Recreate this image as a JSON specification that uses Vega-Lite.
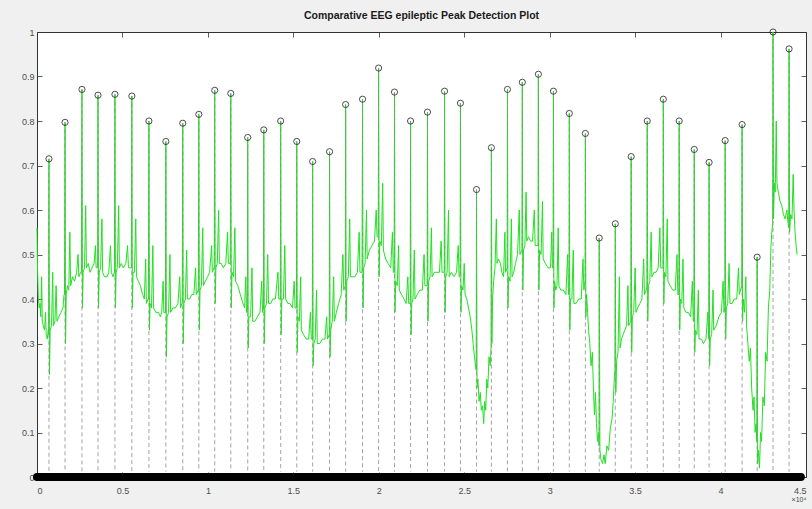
{
 "$schema": "https://vega.github.io/schema/vega-lite/v6.json",
 "width": 769, "height": 445,
 "autosize": {"type": "none"},
 "padding": {"left": 37, "top": 32, "right": 6, "bottom": 32},
 "background": "#f0f0f0",
 "title": {"text": "Comparative EEG epileptic Peak Detection Plot", "font": "Liberation Sans", "fontSize": 10.5, "fontWeight": "bold", "color": "#1a1a1a", "offset": 6},
 "datasets": {
  "zeros": [{"start":0,"end":4.47,"y":0}],
  "peaks": [
   {"x":0.070,"y":0.715},{"x":0.164,"y":0.797},{"x":0.263,"y":0.871},{"x":0.357,"y":0.858},{"x":0.456,"y":0.86},{"x":0.555,"y":0.856},{"x":0.655,"y":0.80},{"x":0.754,"y":0.754},{"x":0.853,"y":0.795},{"x":0.947,"y":0.815},{"x":1.040,"y":0.869},{"x":1.134,"y":0.862},{"x":1.233,"y":0.763},{"x":1.327,"y":0.78},{"x":1.426,"y":0.80},{"x":1.520,"y":0.754},{"x":1.613,"y":0.709},{"x":1.712,"y":0.731},{"x":1.806,"y":0.837},{"x":1.905,"y":0.849},{"x":1.999,"y":0.919},{"x":2.092,"y":0.865},{"x":2.186,"y":0.80},{"x":2.285,"y":0.82},{"x":2.385,"y":0.867},{"x":2.478,"y":0.84},{"x":2.572,"y":0.646},{"x":2.659,"y":0.74},{"x":2.753,"y":0.871},{"x":2.840,"y":0.887},{"x":2.934,"y":0.905},{"x":3.022,"y":0.867},{"x":3.115,"y":0.817},{"x":3.209,"y":0.772},{"x":3.290,"y":0.537},{"x":3.384,"y":0.569},{"x":3.477,"y":0.72},{"x":3.571,"y":0.80},{"x":3.665,"y":0.849},{"x":3.758,"y":0.80},{"x":3.846,"y":0.736},{"x":3.933,"y":0.707},{"x":4.027,"y":0.756},{"x":4.126,"y":0.792},{"x":4.214,"y":0.494},{"x":4.307,"y":1.0},{"x":4.401,"y":0.962}
  ],
  "signal": [
   {"x":0,"y":0.56},{"x":0.003,"y":0.47},{"x":0.008,"y":0.40},{"x":0.013,"y":0.38},{"x":0.018,"y":0.39},{"x":0.022,"y":0.36},{"x":0.027,"y":0.45},{"x":0.031,"y":0.35},{"x":0.037,"y":0.34},{"x":0.044,"y":0.33},{"x":0.05,"y":0.37},{"x":0.054,"y":0.32},{"x":0.06,"y":0.31},{"x":0.066,"y":0.33},{"x":0.068,"y":0.32},
   {"x":0.070,"y":0.715},{"x":0.073,"y":0.23},{"x":0.077,"y":0.33},{"x":0.085,"y":0.34},{"x":0.092,"y":0.46},{"x":0.096,"y":0.34},{"x":0.105,"y":0.35},{"x":0.112,"y":0.43},{"x":0.117,"y":0.35},{"x":0.128,"y":0.36},{"x":0.14,"y":0.37},{"x":0.152,"y":0.38},{"x":0.158,"y":0.41},{"x":0.161,"y":0.41},
   {"x":0.164,"y":0.797},{"x":0.167,"y":0.30},{"x":0.171,"y":0.41},{"x":0.178,"y":0.43},{"x":0.186,"y":0.42},{"x":0.192,"y":0.55},{"x":0.197,"y":0.43},{"x":0.208,"y":0.45},{"x":0.22,"y":0.44},{"x":0.232,"y":0.46},{"x":0.24,"y":0.50},{"x":0.245,"y":0.45},{"x":0.255,"y":0.46},{"x":0.260,"y":0.46},
   {"x":0.263,"y":0.871},{"x":0.266,"y":0.38},{"x":0.270,"y":0.46},{"x":0.278,"y":0.47},{"x":0.285,"y":0.61},{"x":0.289,"y":0.47},{"x":0.30,"y":0.48},{"x":0.31,"y":0.46},{"x":0.322,"y":0.47},{"x":0.334,"y":0.48},{"x":0.342,"y":0.52},{"x":0.346,"y":0.47},{"x":0.352,"y":0.47},{"x":0.355,"y":0.47},
   {"x":0.357,"y":0.858},{"x":0.360,"y":0.38},{"x":0.364,"y":0.46},{"x":0.372,"y":0.47},{"x":0.38,"y":0.58},{"x":0.384,"y":0.46},{"x":0.395,"y":0.45},{"x":0.41,"y":0.45},{"x":0.42,"y":0.46},{"x":0.43,"y":0.52},{"x":0.435,"y":0.46},{"x":0.445,"y":0.45},{"x":0.453,"y":0.46},
   {"x":0.456,"y":0.86},{"x":0.459,"y":0.38},{"x":0.463,"y":0.46},{"x":0.47,"y":0.47},{"x":0.478,"y":0.61},{"x":0.482,"y":0.47},{"x":0.493,"y":0.48},{"x":0.505,"y":0.47},{"x":0.52,"y":0.48},{"x":0.53,"y":0.52},{"x":0.535,"y":0.47},{"x":0.548,"y":0.47},{"x":0.552,"y":0.47},
   {"x":0.555,"y":0.856},{"x":0.558,"y":0.38},{"x":0.562,"y":0.46},{"x":0.57,"y":0.46},{"x":0.578,"y":0.58},{"x":0.582,"y":0.45},{"x":0.593,"y":0.44},{"x":0.605,"y":0.43},{"x":0.618,"y":0.41},{"x":0.628,"y":0.40},{"x":0.636,"y":0.49},{"x":0.640,"y":0.39},{"x":0.65,"y":0.40},{"x":0.652,"y":0.40},
   {"x":0.655,"y":0.80},{"x":0.658,"y":0.33},{"x":0.662,"y":0.39},{"x":0.67,"y":0.38},{"x":0.678,"y":0.52},{"x":0.682,"y":0.38},{"x":0.695,"y":0.37},{"x":0.71,"y":0.37},{"x":0.722,"y":0.36},{"x":0.73,"y":0.37},{"x":0.738,"y":0.44},{"x":0.742,"y":0.37},{"x":0.75,"y":0.37},{"x":0.752,"y":0.37},
   {"x":0.754,"y":0.754},{"x":0.757,"y":0.27},{"x":0.761,"y":0.36},{"x":0.77,"y":0.37},{"x":0.778,"y":0.50},{"x":0.782,"y":0.37},{"x":0.795,"y":0.38},{"x":0.81,"y":0.38},{"x":0.825,"y":0.39},{"x":0.835,"y":0.45},{"x":0.84,"y":0.38},{"x":0.848,"y":0.39},{"x":0.85,"y":0.39},
   {"x":0.853,"y":0.795},{"x":0.856,"y":0.30},{"x":0.86,"y":0.39},{"x":0.868,"y":0.40},{"x":0.876,"y":0.51},{"x":0.88,"y":0.40},{"x":0.893,"y":0.40},{"x":0.905,"y":0.41},{"x":0.918,"y":0.41},{"x":0.928,"y":0.47},{"x":0.932,"y":0.41},{"x":0.942,"y":0.42},{"x":0.944,"y":0.42},
   {"x":0.947,"y":0.815},{"x":0.950,"y":0.33},{"x":0.954,"y":0.42},{"x":0.962,"y":0.43},{"x":0.97,"y":0.56},{"x":0.974,"y":0.43},{"x":0.985,"y":0.44},{"x":0.998,"y":0.45},{"x":1.01,"y":0.46},{"x":1.022,"y":0.52},{"x":1.026,"y":0.46},{"x":1.035,"y":0.47},{"x":1.037,"y":0.47},
   {"x":1.04,"y":0.869},{"x":1.043,"y":0.39},{"x":1.047,"y":0.47},{"x":1.055,"y":0.48},{"x":1.063,"y":0.60},{"x":1.067,"y":0.48},{"x":1.078,"y":0.48},{"x":1.09,"y":0.47},{"x":1.105,"y":0.48},{"x":1.115,"y":0.55},{"x":1.12,"y":0.48},{"x":1.13,"y":0.48},{"x":1.131,"y":0.48},
   {"x":1.134,"y":0.862},{"x":1.137,"y":0.38},{"x":1.141,"y":0.46},{"x":1.15,"y":0.45},{"x":1.158,"y":0.56},{"x":1.162,"y":0.44},{"x":1.175,"y":0.43},{"x":1.19,"y":0.41},{"x":1.205,"y":0.39},{"x":1.215,"y":0.38},{"x":1.222,"y":0.45},{"x":1.226,"y":0.37},{"x":1.231,"y":0.37},
   {"x":1.233,"y":0.763},{"x":1.236,"y":0.29},{"x":1.24,"y":0.36},{"x":1.25,"y":0.36},{"x":1.258,"y":0.47},{"x":1.262,"y":0.35},{"x":1.275,"y":0.35},{"x":1.29,"y":0.36},{"x":1.305,"y":0.37},{"x":1.315,"y":0.44},{"x":1.32,"y":0.37},{"x":1.325,"y":0.38},
   {"x":1.327,"y":0.78},{"x":1.33,"y":0.30},{"x":1.334,"y":0.38},{"x":1.343,"y":0.39},{"x":1.35,"y":0.50},{"x":1.355,"y":0.39},{"x":1.368,"y":0.39},{"x":1.38,"y":0.40},{"x":1.395,"y":0.40},{"x":1.41,"y":0.46},{"x":1.415,"y":0.40},{"x":1.424,"y":0.40},
   {"x":1.426,"y":0.80},{"x":1.429,"y":0.32},{"x":1.433,"y":0.40},{"x":1.442,"y":0.40},{"x":1.45,"y":0.52},{"x":1.455,"y":0.40},{"x":1.468,"y":0.39},{"x":1.48,"y":0.39},{"x":1.495,"y":0.38},{"x":1.505,"y":0.44},{"x":1.51,"y":0.38},{"x":1.518,"y":0.38},
   {"x":1.52,"y":0.754},{"x":1.523,"y":0.28},{"x":1.527,"y":0.36},{"x":1.535,"y":0.35},{"x":1.543,"y":0.45},{"x":1.547,"y":0.33},{"x":1.56,"y":0.32},{"x":1.575,"y":0.31},{"x":1.59,"y":0.31},{"x":1.6,"y":0.37},{"x":1.605,"y":0.31},{"x":1.611,"y":0.31},
   {"x":1.613,"y":0.709},{"x":1.616,"y":0.25},{"x":1.62,"y":0.30},{"x":1.628,"y":0.31},{"x":1.636,"y":0.42},{"x":1.64,"y":0.30},{"x":1.655,"y":0.30},{"x":1.67,"y":0.31},{"x":1.685,"y":0.31},{"x":1.695,"y":0.36},{"x":1.7,"y":0.31},{"x":1.71,"y":0.32},
   {"x":1.712,"y":0.731},{"x":1.715,"y":0.27},{"x":1.719,"y":0.33},{"x":1.728,"y":0.35},{"x":1.736,"y":0.45},{"x":1.74,"y":0.35},{"x":1.752,"y":0.37},{"x":1.765,"y":0.39},{"x":1.78,"y":0.41},{"x":1.79,"y":0.50},{"x":1.795,"y":0.42},{"x":1.804,"y":0.43},
   {"x":1.806,"y":0.837},{"x":1.809,"y":0.35},{"x":1.813,"y":0.44},{"x":1.822,"y":0.45},{"x":1.83,"y":0.58},{"x":1.834,"y":0.45},{"x":1.848,"y":0.45},{"x":1.86,"y":0.45},{"x":1.875,"y":0.46},{"x":1.885,"y":0.55},{"x":1.89,"y":0.46},{"x":1.902,"y":0.46},
   {"x":1.905,"y":0.849},{"x":1.908,"y":0.38},{"x":1.912,"y":0.47},{"x":1.92,"y":0.48},{"x":1.928,"y":0.60},{"x":1.932,"y":0.49},{"x":1.945,"y":0.51},{"x":1.96,"y":0.52},{"x":1.975,"y":0.53},{"x":1.985,"y":0.60},{"x":1.99,"y":0.54},{"x":1.997,"y":0.54},
   {"x":1.999,"y":0.919},{"x":2.002,"y":0.45},{"x":2.006,"y":0.53},{"x":2.015,"y":0.52},{"x":2.023,"y":0.66},{"x":2.027,"y":0.51},{"x":2.04,"y":0.49},{"x":2.055,"y":0.48},{"x":2.07,"y":0.47},{"x":2.08,"y":0.55},{"x":2.085,"y":0.46},{"x":2.09,"y":0.46},
   {"x":2.092,"y":0.865},{"x":2.095,"y":0.37},{"x":2.099,"y":0.44},{"x":2.108,"y":0.43},{"x":2.116,"y":0.52},{"x":2.12,"y":0.42},{"x":2.133,"y":0.41},{"x":2.148,"y":0.40},{"x":2.16,"y":0.39},{"x":2.17,"y":0.45},{"x":2.175,"y":0.39},{"x":2.184,"y":0.39},
   {"x":2.186,"y":0.80},{"x":2.189,"y":0.32},{"x":2.193,"y":0.39},{"x":2.2,"y":0.40},{"x":2.208,"y":0.51},{"x":2.212,"y":0.40},{"x":2.225,"y":0.41},{"x":2.24,"y":0.42},{"x":2.255,"y":0.42},{"x":2.265,"y":0.50},{"x":2.27,"y":0.43},{"x":2.283,"y":0.43},
   {"x":2.285,"y":0.82},{"x":2.288,"y":0.35},{"x":2.292,"y":0.44},{"x":2.3,"y":0.45},{"x":2.308,"y":0.56},{"x":2.312,"y":0.45},{"x":2.325,"y":0.46},{"x":2.34,"y":0.46},{"x":2.355,"y":0.46},{"x":2.365,"y":0.53},{"x":2.37,"y":0.46},{"x":2.383,"y":0.46},
   {"x":2.385,"y":0.867},{"x":2.388,"y":0.37},{"x":2.392,"y":0.45},{"x":2.4,"y":0.46},{"x":2.408,"y":0.60},{"x":2.412,"y":0.45},{"x":2.425,"y":0.46},{"x":2.44,"y":0.45},{"x":2.455,"y":0.46},{"x":2.465,"y":0.52},{"x":2.47,"y":0.45},{"x":2.476,"y":0.45},
   {"x":2.478,"y":0.84},{"x":2.481,"y":0.37},{"x":2.485,"y":0.43},{"x":2.493,"y":0.42},{"x":2.5,"y":0.48},{"x":2.505,"y":0.41},{"x":2.515,"y":0.40},{"x":2.525,"y":0.38},{"x":2.535,"y":0.36},{"x":2.545,"y":0.33},{"x":2.552,"y":0.30},{"x":2.56,"y":0.27},{"x":2.566,"y":0.25},{"x":2.57,"y":0.24},
   {"x":2.572,"y":0.646},{"x":2.575,"y":0.20},{"x":2.58,"y":0.22},{"x":2.587,"y":0.17},{"x":2.594,"y":0.19},{"x":2.6,"y":0.15},{"x":2.607,"y":0.16},{"x":2.614,"y":0.12},{"x":2.62,"y":0.17},{"x":2.626,"y":0.15},{"x":2.632,"y":0.22},{"x":2.638,"y":0.20},{"x":2.645,"y":0.27},{"x":2.652,"y":0.25},{"x":2.657,"y":0.29},
   {"x":2.659,"y":0.74},{"x":2.662,"y":0.30},{"x":2.666,"y":0.40},{"x":2.672,"y":0.44},{"x":2.68,"y":0.47},{"x":2.688,"y":0.58},{"x":2.692,"y":0.48},{"x":2.70,"y":0.49},{"x":2.712,"y":0.48},{"x":2.72,"y":0.46},{"x":2.73,"y":0.45},{"x":2.738,"y":0.55},{"x":2.742,"y":0.46},{"x":2.751,"y":0.47},
   {"x":2.753,"y":0.871},{"x":2.756,"y":0.38},{"x":2.76,"y":0.45},{"x":2.768,"y":0.44},{"x":2.776,"y":0.58},{"x":2.78,"y":0.45},{"x":2.79,"y":0.46},{"x":2.8,"y":0.48},{"x":2.812,"y":0.50},{"x":2.822,"y":0.60},{"x":2.826,"y":0.50},{"x":2.838,"y":0.51},
   {"x":2.84,"y":0.887},{"x":2.843,"y":0.42},{"x":2.847,"y":0.51},{"x":2.855,"y":0.52},{"x":2.862,"y":0.64},{"x":2.866,"y":0.53},{"x":2.876,"y":0.54},{"x":2.888,"y":0.53},{"x":2.9,"y":0.53},{"x":2.91,"y":0.60},{"x":2.915,"y":0.52},{"x":2.932,"y":0.52},
   {"x":2.934,"y":0.905},{"x":2.937,"y":0.42},{"x":2.941,"y":0.51},{"x":2.95,"y":0.50},{"x":2.958,"y":0.62},{"x":2.962,"y":0.49},{"x":2.975,"y":0.48},{"x":2.99,"y":0.47},{"x":3.005,"y":0.47},{"x":3.012,"y":0.55},{"x":3.016,"y":0.47},{"x":3.02,"y":0.47},
   {"x":3.022,"y":0.867},{"x":3.025,"y":0.38},{"x":3.029,"y":0.44},{"x":3.036,"y":0.42},{"x":3.043,"y":0.43},{"x":3.05,"y":0.56},{"x":3.054,"y":0.43},{"x":3.065,"y":0.42},{"x":3.08,"y":0.42},{"x":3.095,"y":0.41},{"x":3.105,"y":0.50},{"x":3.11,"y":0.41},{"x":3.113,"y":0.41},
   {"x":3.115,"y":0.817},{"x":3.118,"y":0.33},{"x":3.122,"y":0.40},{"x":3.13,"y":0.40},{"x":3.138,"y":0.51},{"x":3.142,"y":0.39},{"x":3.155,"y":0.39},{"x":3.17,"y":0.40},{"x":3.185,"y":0.40},{"x":3.195,"y":0.49},{"x":3.2,"y":0.42},{"x":3.207,"y":0.44},
   {"x":3.209,"y":0.772},{"x":3.212,"y":0.36},{"x":3.216,"y":0.41},{"x":3.222,"y":0.37},{"x":3.228,"y":0.33},{"x":3.235,"y":0.30},{"x":3.242,"y":0.25},{"x":3.25,"y":0.28},{"x":3.256,"y":0.20},{"x":3.262,"y":0.14},{"x":3.268,"y":0.19},{"x":3.274,"y":0.12},{"x":3.28,"y":0.08},{"x":3.286,"y":0.10},{"x":3.289,"y":0.07},
   {"x":3.29,"y":0.537},{"x":3.294,"y":0.06},{"x":3.30,"y":0.04},{"x":3.31,"y":0.03},{"x":3.318,"y":0.05},{"x":3.325,"y":0.03},{"x":3.335,"y":0.07},{"x":3.345,"y":0.06},{"x":3.355,"y":0.11},{"x":3.365,"y":0.13},{"x":3.372,"y":0.17},{"x":3.378,"y":0.22},{"x":3.382,"y":0.24},
   {"x":3.384,"y":0.569},{"x":3.387,"y":0.19},{"x":3.392,"y":0.26},{"x":3.4,"y":0.28},{"x":3.408,"y":0.45},{"x":3.412,"y":0.29},{"x":3.42,"y":0.31},{"x":3.43,"y":0.32},{"x":3.44,"y":0.33},{"x":3.45,"y":0.34},{"x":3.458,"y":0.43},{"x":3.462,"y":0.34},{"x":3.475,"y":0.35},
   {"x":3.477,"y":0.72},{"x":3.48,"y":0.28},{"x":3.484,"y":0.36},{"x":3.492,"y":0.37},{"x":3.5,"y":0.47},{"x":3.505,"y":0.37},{"x":3.515,"y":0.38},{"x":3.528,"y":0.39},{"x":3.54,"y":0.40},{"x":3.55,"y":0.49},{"x":3.555,"y":0.41},{"x":3.565,"y":0.42},{"x":3.569,"y":0.43},
   {"x":3.571,"y":0.80},{"x":3.574,"y":0.35},{"x":3.578,"y":0.43},{"x":3.586,"y":0.44},{"x":3.594,"y":0.55},{"x":3.598,"y":0.45},{"x":3.61,"y":0.46},{"x":3.622,"y":0.46},{"x":3.635,"y":0.47},{"x":3.645,"y":0.56},{"x":3.65,"y":0.47},{"x":3.663,"y":0.47},
   {"x":3.665,"y":0.849},{"x":3.668,"y":0.39},{"x":3.672,"y":0.46},{"x":3.68,"y":0.45},{"x":3.688,"y":0.58},{"x":3.692,"y":0.44},{"x":3.705,"y":0.43},{"x":3.72,"y":0.42},{"x":3.735,"y":0.42},{"x":3.745,"y":0.50},{"x":3.75,"y":0.41},{"x":3.756,"y":0.41},
   {"x":3.758,"y":0.80},{"x":3.761,"y":0.33},{"x":3.765,"y":0.40},{"x":3.773,"y":0.39},{"x":3.78,"y":0.49},{"x":3.785,"y":0.38},{"x":3.798,"y":0.37},{"x":3.81,"y":0.37},{"x":3.825,"y":0.36},{"x":3.835,"y":0.44},{"x":3.84,"y":0.35},{"x":3.844,"y":0.35},
   {"x":3.846,"y":0.736},{"x":3.849,"y":0.28},{"x":3.853,"y":0.33},{"x":3.862,"y":0.32},{"x":3.87,"y":0.42},{"x":3.874,"y":0.31},{"x":3.888,"y":0.31},{"x":3.9,"y":0.30},{"x":3.915,"y":0.31},{"x":3.925,"y":0.37},{"x":3.931,"y":0.31},
   {"x":3.933,"y":0.707},{"x":3.936,"y":0.25},{"x":3.94,"y":0.31},{"x":3.948,"y":0.32},{"x":3.956,"y":0.42},{"x":3.96,"y":0.33},{"x":3.975,"y":0.34},{"x":3.99,"y":0.36},{"x":4.005,"y":0.37},{"x":4.015,"y":0.44},{"x":4.02,"y":0.37},{"x":4.025,"y":0.38},
   {"x":4.027,"y":0.756},{"x":4.03,"y":0.31},{"x":4.034,"y":0.38},{"x":4.042,"y":0.39},{"x":4.05,"y":0.48},{"x":4.055,"y":0.39},{"x":4.068,"y":0.39},{"x":4.08,"y":0.40},{"x":4.095,"y":0.40},{"x":4.105,"y":0.47},{"x":4.11,"y":0.41},{"x":4.124,"y":0.43},
   {"x":4.126,"y":0.792},{"x":4.129,"y":0.35},{"x":4.133,"y":0.40},{"x":4.14,"y":0.37},{"x":4.148,"y":0.45},{"x":4.152,"y":0.34},{"x":4.16,"y":0.30},{"x":4.168,"y":0.26},{"x":4.175,"y":0.29},{"x":4.182,"y":0.20},{"x":4.19,"y":0.15},{"x":4.196,"y":0.18},{"x":4.202,"y":0.10},{"x":4.208,"y":0.12},{"x":4.212,"y":0.08},
   {"x":4.214,"y":0.494},{"x":4.217,"y":0.03},{"x":4.222,"y":0.06},{"x":4.228,"y":0.02},{"x":4.234,"y":0.10},{"x":4.24,"y":0.08},{"x":4.248,"y":0.18},{"x":4.256,"y":0.16},{"x":4.264,"y":0.28},{"x":4.272,"y":0.26},{"x":4.28,"y":0.38},{"x":4.288,"y":0.42},{"x":4.295,"y":0.52},{"x":4.3,"y":0.55},{"x":4.305,"y":0.57},
   {"x":4.307,"y":1.0},{"x":4.31,"y":0.58},{"x":4.315,"y":0.66},{"x":4.32,"y":0.64},{"x":4.326,"y":0.80},{"x":4.33,"y":0.66},{"x":4.338,"y":0.64},{"x":4.348,"y":0.62},{"x":4.358,"y":0.61},{"x":4.368,"y":0.59},{"x":4.378,"y":0.58},{"x":4.388,"y":0.60},{"x":4.395,"y":0.57},{"x":4.399,"y":0.56},
   {"x":4.401,"y":0.962},{"x":4.404,"y":0.55},{"x":4.41,"y":0.59},{"x":4.418,"y":0.58},{"x":4.425,"y":0.68},{"x":4.43,"y":0.60},{"x":4.436,"y":0.55},{"x":4.442,"y":0.52},{"x":4.448,"y":0.50}
  ]
 },
 "layer": [
  {
   "data": {"name": "signal"},
   "mark": {"type": "line", "color": "#1fe21f", "strokeWidth": 1, "interpolate": "linear"},
   "encoding": {
    "x": {"field": "x", "type": "quantitative", "scale": {"domain": [0, 4.5], "nice": false, "zero": false},
      "axis": {"orient": "bottom", "values": [0,0.5,1,1.5,2,2.5,3,3.5,4,4.5], "format": "~g", "labelPadding": 14, "title": "×10⁴", "titleAnchor": "end", "titleFontSize": 7, "titleFontWeight": "normal", "titleColor": "#444444", "titlePadding": 0, "titleFont": "Liberation Sans"}},
    "y": {"field": "y", "type": "quantitative", "scale": {"domain": [0, 1], "nice": false},
      "axis": {"orient": "left", "values": [0,0.1,0.2,0.3,0.4,0.5,0.6,0.7,0.8,0.9,1], "format": "~g", "labelPadding": 8, "title": null}}
   }
  },
  {
   "data": {"name": "peaks"},
   "mark": {"type": "rule", "color": "#8c8c8c", "strokeWidth": 0.8, "strokeDash": [4, 3]},
   "encoding": {
    "x": {"field": "x", "type": "quantitative", "axis": null},
    "y": {"field": "y", "type": "quantitative", "axis": null},
    "y2": {"datum": 0.012}
   }
  },
  {
   "data": {"name": "peaks"},
   "mark": {"type": "point", "shape": "circle", "filled": false, "stroke": "#222222", "strokeWidth": 0.8, "size": 38, "opacity": 1},
   "encoding": {
    "x": {"field": "x", "type": "quantitative", "axis": null},
    "y": {"field": "y", "type": "quantitative", "axis": null}
   }
  },
  {
   "data": {"name": "zeros"},
   "mark": {"type": "rule", "color": "#000000", "strokeWidth": 8, "strokeCap": "round", "opacity": 1, "strokeDash": [1, 0]},
   "encoding": {
    "x": {"field": "start", "type": "quantitative", "axis": {"orient": "top", "values": [0,0.5,1,1.5,2,2.5,3,3.5,4,4.5], "labels": false, "title": null}},
    "x2": {"field": "end"},
    "y": {"field": "y", "type": "quantitative", "axis": {"orient": "right", "values": [0,0.1,0.2,0.3,0.4,0.5,0.6,0.7,0.8,0.9,1], "labels": false, "title": null}}
   }
  }
 ],
 "resolve": {"axis": {"x": "independent", "y": "independent"}},
 "config": {
  "view": {"stroke": "#333333", "strokeWidth": 1, "fill": "#ffffff"},
  "axis": {"grid": false, "domain": false, "tickColor": "#333333", "tickWidth": 0.8, "tickSize": -5, "labelFont": "Liberation Sans", "labelFontSize": 9, "labelColor": "#4d4d4d"}
 }
}
